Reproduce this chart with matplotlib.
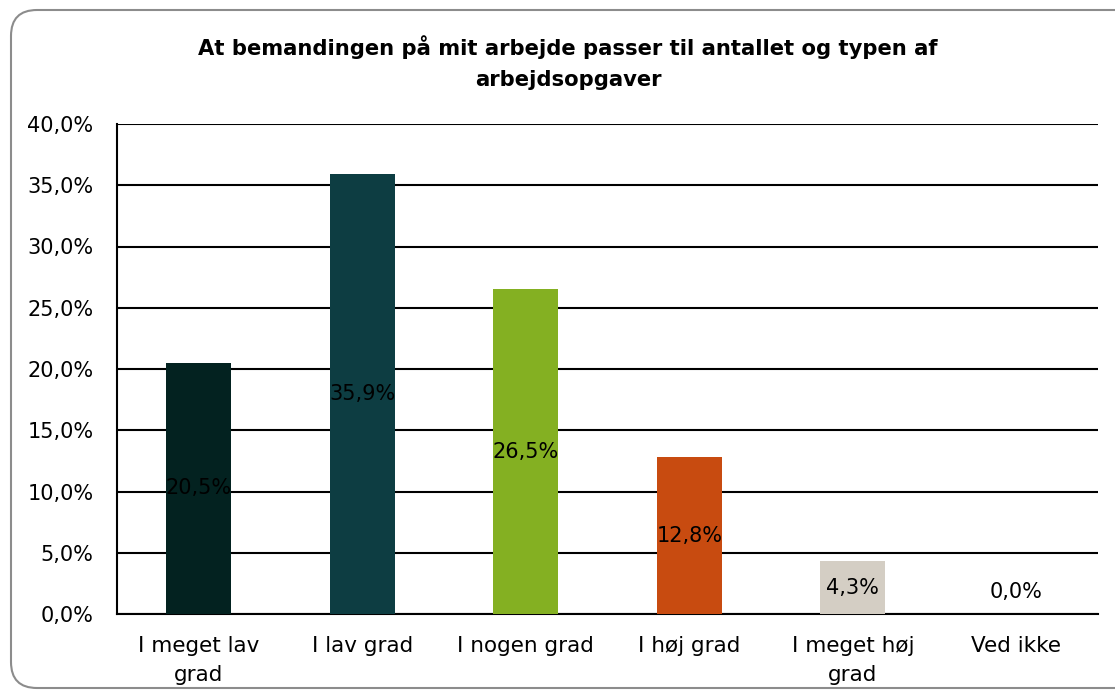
import matplotlib.pyplot as plt
from matplotlib.patches import FancyBboxPatch

# data
categories = ["I meget lav\ngrad", "I lav grad", "I nogen grad", "I høj grad", "I meget høj\ngrad", "Ved ikke"]
values = [20.5, 35.9, 26.5, 12.8, 4.3, 0.0]
colors = ["#032220", "#0d3d42", "#84b022", "#c84b10", "#d4cec4", "#ffffff"]
yticks = [0, 5, 10, 15, 20, 25, 30, 35, 40]

plt.rcParams['font.family'] = ['DejaVu Sans']

fig = plt.figure(figsize=(11.15, 6.96), dpi=100)
W, H = 1115, 696

# background axes in pixel units for the rounded frame
bg = fig.add_axes([0, 0, 1, 1], zorder=-1)
bg.set_xlim(0, W)
bg.set_ylim(H, 0)
bg.axis("off")
bg.add_patch(FancyBboxPatch((11, 10), 1200, 678,
                            boxstyle="round,pad=0,rounding_size=26",
                            facecolor="white", edgecolor="#8c8c8c", linewidth=1.5))

ax = fig.add_axes([117 / W, (H - 614) / H, (1098 - 117) / W, (614 - 124) / H])
ax.set_facecolor("none")
x = range(len(categories))
ax.bar(x, values, width=0.4, color=colors, zorder=3)

for i, v in enumerate(values):
    ax.text(i, max(v / 2, 1.8), f"{v:.1f}%".replace(".", ","), ha="center", va="center",
            fontsize=15, color="black", zorder=4)

ax.set_ylim(0, 40)
ax.set_xlim(-0.5, len(categories) - 0.5)
ax.set_yticks(yticks)
ax.set_yticklabels([f"{t:.1f}%".replace(".", ",") for t in yticks], fontsize=15)
ax.set_xticks(list(x))
ax.set_xticklabels(categories, fontsize=15.5, linespacing=1.55)
ax.tick_params(axis="y", length=0, pad=17)
ax.tick_params(axis="x", length=0, pad=16)
ax.yaxis.grid(True, color="black", linewidth=1.5, zorder=0)
ax.set_axisbelow(True)
for s in ["top", "right"]:
    ax.spines[s].set_visible(False)
ax.spines["left"].set_linewidth(1.5)
ax.spines["bottom"].set_linewidth(1.5)

fig.text(568 / W, 1 - 47 / H, "At bemandingen på mit arbejde passer til antallet og typen af",
         ha="center", va="center", fontsize=15.2, fontweight="bold")
fig.text(568 / W, 1 - 80 / H, "arbejdsopgaver", ha="center", va="center",
         fontsize=15.2, fontweight="bold")

fig.savefig("out.png", dpi=100)
